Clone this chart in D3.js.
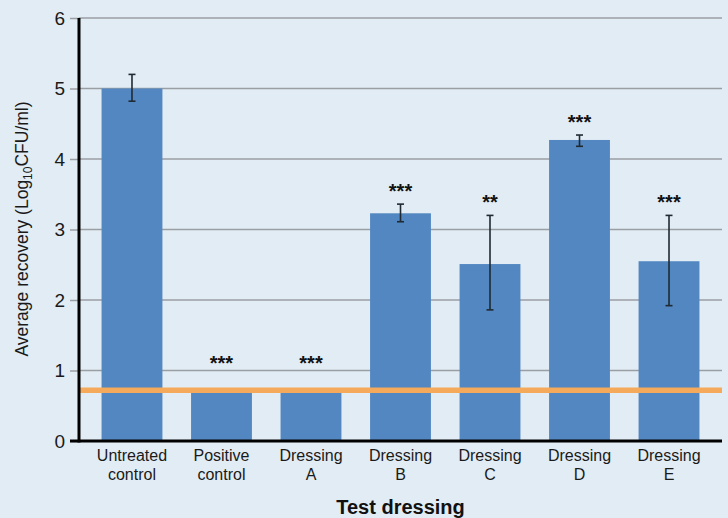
<!DOCTYPE html>
<html><head><meta charset="utf-8">
<script src="https://cdn.jsdelivr.net/npm/d3@7"></script>
<style>
html,body{margin:0;padding:0;background:#e2ecf4;}
svg{display:block;font-family:"Liberation Sans",Arial,Helvetica,sans-serif;}
</style></head>
<body>
<svg id="chart" width="728" height="518"></svg>
<script>
const categories = [["Untreated","control"],["Positive","control"],["Dressing","A"],["Dressing","B"],["Dressing","C"],["Dressing","D"],["Dressing","E"]];
const values = [5.0, 0.69, 0.69, 3.23, 2.51, 4.27, 2.55];
const errLow = [4.82, null, null, 3.11, 1.86, 4.18, 1.92];
const errHigh = [5.2, null, null, 3.36, 3.2, 4.34, 3.2];
const stars = ["", "***", "***", "***", "**", "***", "***"];
const detectionLimit = 0.72;
const yTicks = [0,1,2,3,4,5,6];

const svg = d3.select("#chart");
const W = 728, H = 518;
svg.append("rect").attr("width",W).attr("height",H).attr("fill","#e2ecf4");

const x0 = 79, x1 = 722, yTop = 18, yBot = 441;
const x = d3.scaleBand().domain(d3.range(values.length)).range([x0, x1]).paddingInner(0.32).paddingOuter(0.252);
const y = d3.scaleLinear().domain([0,6]).range([yBot, yTop]);

// gridlines
svg.append("g").selectAll("line").data(yTicks.filter(t=>t>0)).join("line")
  .attr("x1", x0).attr("x2", x1).attr("y1", d=>y(d)).attr("y2", d=>y(d))
  .attr("stroke","#9a9fa4").attr("stroke-width",1.5);

// y axis
const yAxis = d3.axisLeft(y).tickValues(yTicks).tickSize(9).tickPadding(5).tickFormat(d3.format("d"));
const ya = svg.append("g").attr("transform",`translate(${x0},0)`).call(yAxis);
ya.select(".domain").remove();
ya.selectAll(".tick line").attr("stroke","#9a9fa4").attr("stroke-width",1.5);
ya.selectAll(".tick text").attr("font-size",19).attr("fill","#1a1a1a").attr("font-family","Liberation Sans, Arial, sans-serif");

// bars
svg.append("g").selectAll("rect").data(values).join("rect")
  .attr("x",(d,i)=>x(i)).attr("width",x.bandwidth())
  .attr("y",d=>y(d)).attr("height",d=>yBot-y(d))
  .attr("fill","#5387c1");

// detection limit line
svg.append("line").attr("x1",x0).attr("x2",x1)
  .attr("y1",y(detectionLimit)).attr("y2",y(detectionLimit))
  .attr("stroke","#f5a95a").attr("stroke-width",5.5);

// error bars
const eg = svg.append("g").attr("stroke","#1f2a33").attr("stroke-width",1.6);
values.forEach((v,i)=>{
  if(errHigh[i]==null) return;
  const cx = x(i)+x.bandwidth()/2;
  eg.append("line").attr("x1",cx).attr("x2",cx).attr("y1",y(errHigh[i])).attr("y2",y(errLow[i]));
  eg.append("line").attr("x1",cx-3.5).attr("x2",cx+3.5).attr("y1",y(errHigh[i])).attr("y2",y(errHigh[i]));
  eg.append("line").attr("x1",cx-3.5).attr("x2",cx+3.5).attr("y1",y(errLow[i])).attr("y2",y(errLow[i]));
});

// significance stars
svg.append("g").selectAll("text").data(stars).join("text")
  .attr("x",(d,i)=>x(i)+x.bandwidth()/2)
  .attr("y",(d,i)=>y(Math.max(errHigh[i]==null?0:errHigh[i], 0.92)) - 6)
  .attr("text-anchor","middle").attr("font-size",20).attr("font-weight","bold").attr("fill","#111")
  .text(d=>d);

// axis lines
svg.append("line").attr("x1",x0).attr("x2",x0).attr("y1",yTop).attr("y2",yBot+1.5).attr("stroke","#000").attr("stroke-width",3);
svg.append("line").attr("x1",70).attr("x2",x1).attr("y1",yBot).attr("y2",yBot).attr("stroke","#000").attr("stroke-width",3);

// x labels
const xl = svg.append("g").selectAll("text").data(categories).join("text")
  .attr("x",(d,i)=>x(i)+x.bandwidth()/2).attr("y",461)
  .attr("text-anchor","middle").attr("font-size",16).attr("fill","#1a1a1a");
xl.append("tspan").attr("x",(d,i)=>x(i)+x.bandwidth()/2).attr("dy",0).text(d=>d[0]);
xl.append("tspan").attr("x",(d,i)=>x(i)+x.bandwidth()/2).attr("dy",18.5).text(d=>d[1]);

// x title
svg.append("text").attr("x",(x0+x1)/2).attr("y",514).attr("text-anchor","middle")
  .attr("font-size",20).attr("font-weight","bold").attr("fill","#111").text("Test dressing");

// y title
const yt = svg.append("text").attr("transform","translate(28,229) rotate(-90)")
  .attr("text-anchor","middle").attr("font-size",17.5).attr("fill","#1a1a1a");
yt.append("tspan").text("Average recovery (Log");
yt.append("tspan").attr("font-size",12).attr("dy",4).text("10");
yt.append("tspan").attr("dy",-4).text("CFU/ml)");
</script>
</body></html>
